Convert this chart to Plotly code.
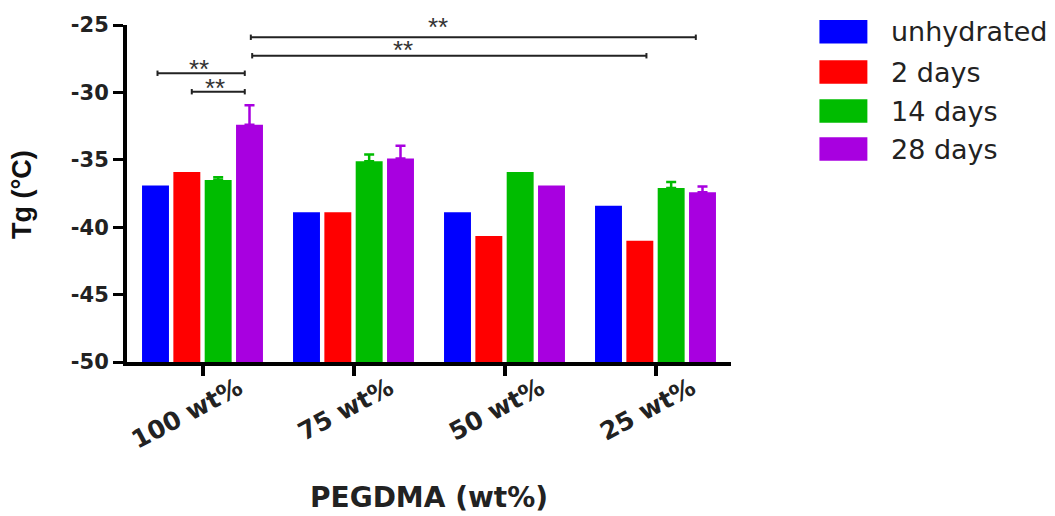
import plotly.graph_objects as go

categories = ["100 wt%", "75 wt%", "50 wt%", "25 wt%"]
series_names = ["unhydrated", "2 days", "14 days", "28 days"]
colors = ["#0000FF", "#FF0000", "#00BC00", "#A800E0"]

unhydrated = [-36.9, -38.9, -38.9, -38.4]
days2 = [-35.9, -38.9, -40.65, -41.0]
days14 = [-36.5, -35.1, -35.9, -37.1]
days28 = [-32.4, -34.9, -36.9, -37.4]

err_unhydrated = [None, None, None, None]
err_days2 = [None, None, None, None]
err_days14 = [0.2, 0.5, None, 0.45]
err_days28 = [1.45, 0.95, None, 0.42]

values = [unhydrated, days2, days14, days28]
errors = [err_unhydrated, err_days2, err_days14, err_days28]

y_min, y_max = -50, -25
y_ticks = [-50, -45, -40, -35, -30, -25]
y_ticktext = ["-50", "-45", "-40", "-35", "-30", "-25"]

# significance brackets: (x start, x end, y level, label x, label pixel shift)
brackets = [
    (-0.298, 0.28, -28.58, -0.025, 4),
    (-0.071, 0.28, -29.95, 0.08, 4),
    (0.32, 3.267, -25.91, 1.558, 10),
    (0.329, 2.94, -27.28, 1.326, 6),
]
star_label = "**"

fig = go.Figure()
for name, col, vals, errs in zip(series_names, colors, values, errors):
    has_err = any(e is not None for e in errs)
    fig.add_trace(go.Bar(
        x=categories,
        y=[v - y_min for v in vals],
        base=y_min,
        name=name,
        marker=dict(color=col, line=dict(width=0)),
        error_y=dict(type="data", symmetric=False, visible=has_err,
                     array=[e if e is not None else "none" for e in errs],
                     arrayminus=[0 if e is not None else "none" for e in errs],
                     color=col, thickness=2.5, width=5),
        showlegend=False,
    ))

shapes = []
annotations = []
cap = 0.2
for x0, x1, yl, lx, ys in brackets:
    shapes.append(dict(type="line", xref="x", yref="y", x0=x0, x1=x1, y0=yl, y1=yl,
                       line=dict(color="#222222", width=2)))
    for xx in (x0, x1):
        shapes.append(dict(type="line", xref="x", yref="y", x0=xx, x1=xx,
                           y0=yl - cap, y1=yl + cap, line=dict(color="#222222", width=2)))
    annotations.append(dict(x=lx, y=yl, xref="x", yref="y", text=star_label,
                            showarrow=False, yanchor="middle", yshift=ys,
                            font=dict(family="Liberation Sans", size=26, color="#333333")))

# custom legend
leg_y = [0.9801, 0.8605, 0.7448, 0.6320]
for name, col, yy in zip(series_names, colors, leg_y):
    shapes.append(dict(type="rect", xref="paper", yref="paper", x0=1.1464, x1=1.2258,
                       y0=yy - 0.0347, y1=yy + 0.0347, fillcolor=col, line=dict(width=0)))
    annotations.append(dict(x=1.2622, y=yy, xref="paper", yref="paper", text=name,
                            xanchor="left", yanchor="middle", showarrow=False,
                            font=dict(family="DejaVu Sans", size=27, color="#222222")))

# axis titles
annotations.append(dict(x=-0.1737, y=0.4955, xref="paper", yref="paper", text="<b>Tg (°C)</b>",
                        textangle=-90, showarrow=False, xanchor="center", yanchor="middle",
                        font=dict(family="Liberation Sans", size=27, color="#111111")))
annotations.append(dict(x=0.5, y=-0.4006, xref="paper", yref="paper", text="<b>PEGDMA (wt%)</b>",
                        showarrow=False, xanchor="center", yanchor="middle",
                        font=dict(family="DejaVu Sans", size=28, color="#222222")))

fig.update_layout(
    width=1055, height=516,
    margin=dict(l=127, r=324, t=25, b=154),
    plot_bgcolor="white", paper_bgcolor="white",
    barmode="group", bargap=0.17, bargroupgap=0.14,
    shapes=shapes, annotations=annotations,
    showlegend=False,
)
fig.update_xaxes(
    type="category", range=[-0.5, 3.5],
    showline=True, linecolor="black", linewidth=4,
    ticks="outside", ticklen=10, tickwidth=4, tickcolor="black",
    tickangle=-28, showgrid=False, zeroline=False,
    ticklabelshift=36, ticklabelstandoff=-12,
    tickfont=dict(family="DejaVu Sans", size=25, color="#222222", weight="bold"),
)
fig.update_yaxes(
    range=[y_min, y_max], tickvals=y_ticks, ticktext=y_ticktext,
    showline=True, linecolor="black", linewidth=4,
    ticks="outside", ticklen=10, tickwidth=3, tickcolor="black",
    showgrid=False, zeroline=False,
    tickfont=dict(family="DejaVu Sans", size=21, color="#222222", weight="bold"),
)

fig.write_html("out.html")
